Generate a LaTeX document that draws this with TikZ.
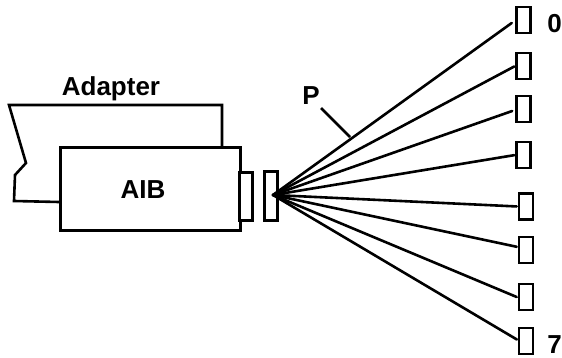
\documentclass[tikz,border=0pt]{standalone}
\usepackage{fontspec}
\setmainfont{Liberation Sans}
\begin{document}
\begin{tikzpicture}[x=1pt,y=-1pt,
  ln/.style={line width=2.6pt,line join=miter,black},
  fan/.style={line width=2.6pt,black,line cap=round},
  rbox/.style={draw,line width=2.6pt,fill=white,inner sep=0pt,minimum width=14pt,minimum height=26pt},
  lab/.style={font=\fontsize{26}{26}\selectfont\bfseries,inner sep=0pt}]
\useasboundingbox (0,0) rectangle (562,358);
% adapter outline
\coordinate (ad1) at (222,146);
\coordinate (ad2) at (59,202);
\draw[ln] (ad1) -- (222,105) -- (9,105) -- (26,163) -- (15,175) -- (14,201) -- (ad2);
% AIB
\node[draw,line width=2.6pt,fill=white,minimum width=180pt,minimum height=83pt,inner sep=0pt,anchor=north west] (aib) at (59,146) {};
\node[lab,anchor=base] (aibl) at (143,199) {AIB};
\node[rbox,minimum width=13pt,minimum height=48pt,anchor=north west] (plug) at (238,171) {};
\node[rbox,minimum width=13pt,minimum height=49pt,anchor=north west] (sock) at (263,170) {};
\coordinate (o) at (273,195);
% target boxes
\node[rbox] (b0) at (523.5,20) {};
\node[rbox] (b1) at (523.5,66) {};
\node[rbox] (b2) at (523.5,109) {};
\node[rbox] (b3) at (523.5,155) {};
\node[rbox] (b4) at (526,206.5) {};
\node[rbox] (b5) at (526,250) {};
\node[rbox] (b6) at (526,297) {};
\node[rbox] (b7) at (526,341) {};
% fan
\draw[fan] (o) -- ([shift={(-3.5,3)}]b0.west);
\draw[fan,shorten >=1pt] (o) -- (b1.west);
\draw[fan] (o) -- ([shift={(-3,2)}]b2.west);
\draw[fan,shorten >=1pt] (o) -- (b3.west);
\draw[fan,shorten >=1pt] (o) -- (b4.west);
\draw[fan,shorten >=1pt] (o) -- ([yshift=3]b5.west);
\draw[fan] (o) -- ([xshift=-1]b6.west);
\draw[fan,shorten >=1pt] (o) -- ([yshift=1]b7.west);
% labels
\node[lab,anchor=base] (adl) at (111,96) {Adapter};
\node[lab,anchor=base] (pl) at (311,105) {P};
\coordinate (pe) at (350,137);
\draw[line width=2.6pt] (321,108) -- (pe);
\node[lab,anchor=base] (n0) at (554.5,33) {0};
\node[lab,anchor=base] (n7) at (554.5,353) {7};
\end{tikzpicture}
\end{document}
